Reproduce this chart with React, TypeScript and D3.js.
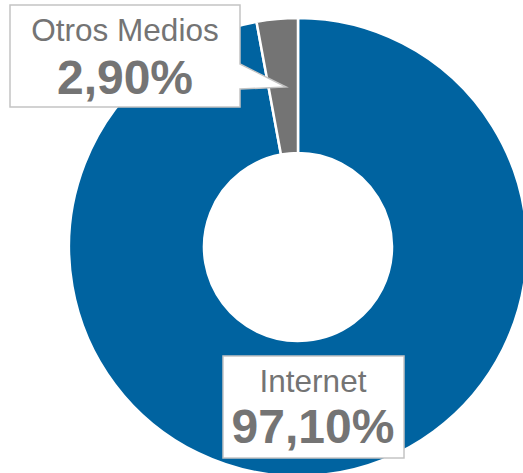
import * as d3 from 'd3';

// datos del gráfico
const categories = ['Internet', 'Otros Medios'];
const values = [97.1, 2.9];
const valueLabels = ['97,10%', '2,90%'];
const colors = ['#0063a0', '#747474'];

const width = 523;
const height = 473;

const App = () => {
  const cx = 298;
  const cy = 247;
  const outerR = 229;
  const innerR = 94;

  const pie = d3.pie<number>().sort(null).value(d => d)(values);
  const arc = d3.arc<d3.PieArcDatum<number>>().innerRadius(innerR).outerRadius(outerR);

  const font = '"Liberation Sans", Arial, sans-serif';

  return (
    <svg
      width={width}
      height={height}
      style={{ position: 'absolute', left: 0, top: 0, background: '#fff' }}
    >
      <g transform={`translate(${cx},${cy})`}>
        {pie.map((p, i) => (
          <path key={categories[i]} d={arc(p) || ''} fill={colors[i]} stroke="#fff" strokeWidth={2.5} />
        ))}
      </g>

      {/* etiqueta Otros Medios con flecha */}
      <path
        d="M10,5 H240 V64 L286,87 L240,89 V107 H10 Z"
        fill="#fff"
        stroke="#c4c4c4"
        strokeWidth={1.5}
      />
      <text x={125} y={41} textAnchor="middle" fontFamily={font} fontSize={31.5} fill="#747474">
        {categories[1]}
      </text>
      <text x={125} y={94} textAnchor="middle" fontFamily={font} fontSize={48} fontWeight="bold" fill="#747474">
        {valueLabels[1]}
      </text>

      {/* etiqueta Internet */}
      <rect x={223} y={356} width={181} height={102} fill="#fff" stroke="#c4c4c4" strokeWidth={1.5} />
      <text x={313} y={392} textAnchor="middle" fontFamily={font} fontSize={31.5} fill="#747474">
        {categories[0]}
      </text>
      <text x={313} y={443} textAnchor="middle" fontFamily={font} fontSize={48} fontWeight="bold" fill="#747474">
        {valueLabels[0]}
      </text>
    </svg>
  );
};

export default App;
